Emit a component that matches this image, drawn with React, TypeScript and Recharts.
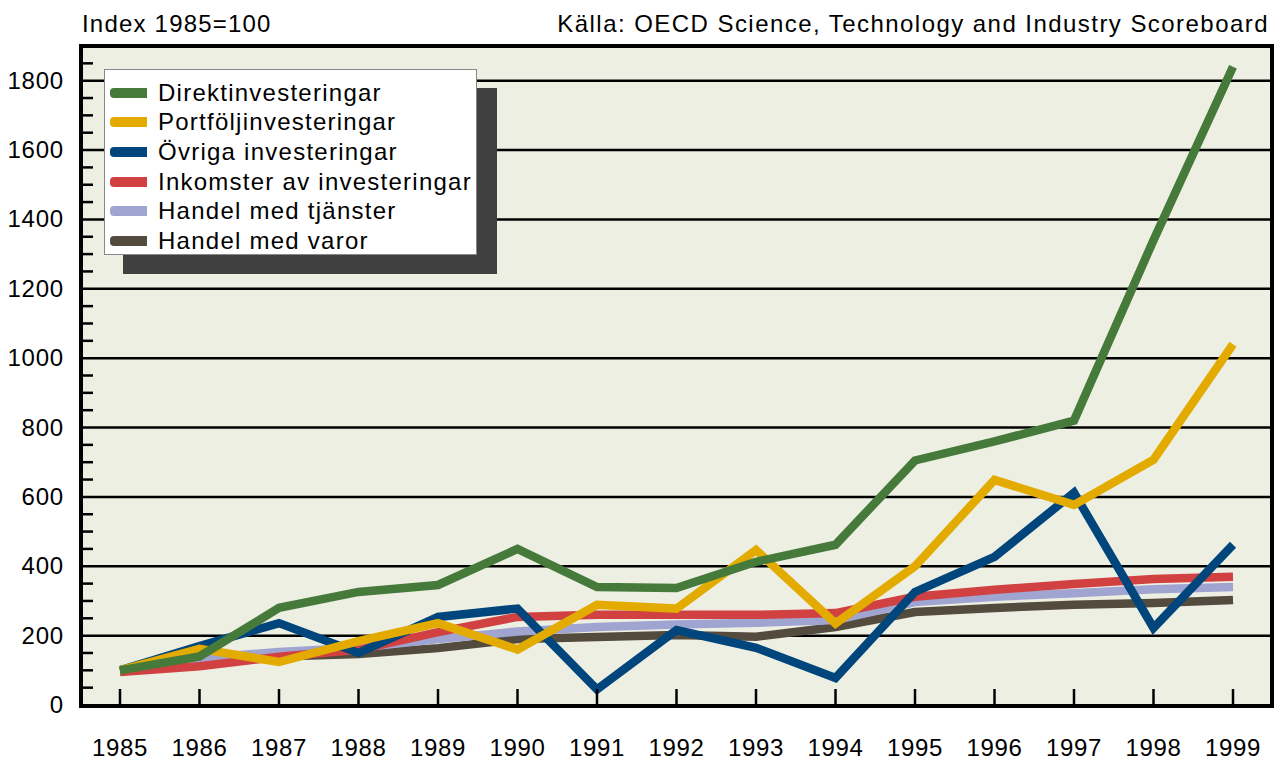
import React from 'react';
import { LineChart, Line, XAxis, YAxis, CartesianGrid } from 'recharts';

const years = ['1985', '1986', '1987', '1988', '1989', '1990', '1991', '1992', '1993', '1994', '1995', '1996', '1997', '1998', '1999'];

const direkt = [100, 140, 280, 326, 346, 450, 340, 337, 413, 462, 705, 760, 820, 1340, 1840];
const portfolj = [100, 162, 124, 184, 236, 160, 289, 278, 447, 235, 400, 649, 577, 707, 1040];
const ovriga = [100, 170, 236, 150, 254, 278, 45, 216, 165, 78, 326, 427, 612, 222, 462];
const inkomster = [95, 112, 139, 159, 210, 254, 260, 260, 260, 265, 312, 332, 349, 363, 370];
const tjanster = [100, 135, 153, 165, 190, 212, 225, 232, 237, 245, 297, 312, 322, 334, 340];
const varor = [100, 130, 140, 147, 164, 190, 196, 202, 197, 225, 268, 280, 289, 294, 303];

const minorTicks = Array.from({ length: 38 }, (_, i) => i * 50);
const majorTicks = [200, 400, 600, 800, 1000, 1200, 1400, 1600, 1800];

const series = [
  { key: 'direkt', name: 'Direktinvesteringar', color: '#467a3a' },
  { key: 'portfolj', name: 'Portföljinvesteringar', color: '#e3ab00' },
  { key: 'ovriga', name: 'Övriga investeringar', color: '#00467c' },
  { key: 'inkomster', name: 'Inkomster av investeringar', color: '#d24141' },
  { key: 'tjanster', name: 'Handel med tjänster', color: '#a0a4d0' },
  { key: 'varor', name: 'Handel med varor', color: '#534b3d' },
];

const data = years.map((y, i) => ({
  year: y,
  direkt: direkt[i],
  portfolj: portfolj[i],
  ovriga: ovriga[i],
  inkomster: inkomster[i],
  tjanster: tjanster[i],
  varor: varor[i],
}));

const font = 'Liberation Sans, Arial, sans-serif';

const YTick = ({ x, y, payload }: any) => {
  const v = payload.value;
  if (v % 200 === 0) {
    return (
      <text x={x} y={y} dy={8} textAnchor="end" fontSize={24} letterSpacing={0.8} fontFamily={font} fill="#000">
        {v}
      </text>
    );
  }
  return <line x1={x + 17} x2={x + 29} y1={y} y2={y} stroke="#000" strokeWidth={2.5} />;
};

const XTick = ({ x, y, payload }: any) => (
  <g>
    <line x1={x} x2={x} y1={y - 30} y2={y - 46} stroke="#000" strokeWidth={2.5} />
    <text x={x} y={y + 21} textAnchor="middle" fontSize={24} letterSpacing={0.6} fontFamily={font} fill="#000">
      {payload.value}
    </text>
  </g>
);

const LegendBox = () => (
  <>
    <div style={{ position: 'absolute', left: 123, top: 88, width: 374, height: 186, background: '#404040' }} />
    <div
      style={{
        position: 'absolute', left: 104, top: 69, width: 373, height: 186, background: '#fff',
        border: '1px solid #888', boxSizing: 'border-box', paddingTop: 8,
      }}
    >
      {series.map((s) => (
        <div key={s.key} style={{ height: 29.6, display: 'flex', alignItems: 'center' }}>
          <div style={{ width: 37, height: 10, marginLeft: 5, background: s.color, borderRadius: '4px 0 0 4px' }} />
          <span style={{ marginLeft: 11, fontFamily: font, fontSize: 24, letterSpacing: 1.25, color: '#000', lineHeight: '26px', whiteSpace: 'nowrap' }}>
            {s.name}
          </span>
        </div>
      ))}
    </div>
  </>
);

export default function App() {
  return (
    <div style={{ position: 'absolute', left: 0, top: 0, width: 1282, height: 760, background: '#fff', overflow: 'hidden' }}>
      <div style={{ position: 'absolute', left: 82, top: 10, fontFamily: font, fontSize: 24, letterSpacing: 1.2, whiteSpace: 'pre' }}>
        Index 1985=100
      </div>
      <div style={{ position: 'absolute', right: 13, top: 10, fontFamily: font, fontSize: 24, letterSpacing: 1.45, whiteSpace: 'nowrap' }}>
        Källa: OECD Science, Technology and Industry Scoreboard
      </div>
      <LineChart width={1282} height={760} data={data} margin={{ top: 46, right: 10, left: 0, bottom: 0 }}>
        <CartesianGrid
          vertical={false}
          horizontalValues={majorTicks}
          stroke="#000"
          strokeWidth={2.5}
          fill="#eeefe3"
          fillOpacity={1}
        />
        <XAxis
          dataKey="year"
          height={55}
          padding={{ left: 39, right: 39 }}
          tickSize={0}
          tickMargin={30}
          axisLine={false}
          tickLine={false}
          tick={<XTick />}
          interval={0}
        />
        <YAxis
          width={81}
          domain={[0, 1900]}
          ticks={minorTicks.filter((t) => t <= 1850)}
          tickSize={0}
          tickMargin={17}
          axisLine={false}
          tickLine={false}
          tick={<YTick />}
          interval={0}
        />
        {[...series].reverse().map((s) => (
          <Line
            key={s.key}
            type="linear"
            dataKey={s.key}
            name={s.name}
            stroke={s.color}
            strokeWidth={8.5}
            dot={false}
            activeDot={false}
            isAnimationActive={false}
          />
        ))}
      </LineChart>
      <div
        style={{
          position: 'absolute', left: 79, top: 44, width: 1195, height: 664,
          border: '4px solid #000', boxSizing: 'border-box', pointerEvents: 'none',
        }}
      />
      <LegendBox />
    </div>
  );
}
